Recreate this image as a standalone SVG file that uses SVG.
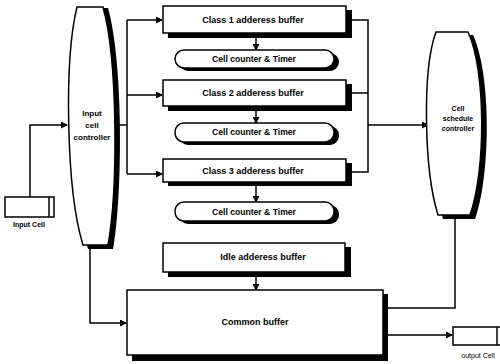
<svg xmlns="http://www.w3.org/2000/svg" width="500" height="364" viewBox="0 0 500 364">
<style>
.box{fill:#fff;stroke:#000;stroke-width:1.5}
.sh{fill:#000}
.t{font-family:"Liberation Sans",Arial,sans-serif;font-weight:bold;font-size:9px;text-anchor:middle;fill:#000}
.c{font-size:8.6px}
.n{font-size:8px}
.m{font-size:7px}
.s{font-family:"Liberation Sans",Arial,sans-serif;font-size:7px;text-anchor:middle;fill:#000}
.ln{fill:none;stroke:#000;stroke-width:1.5}
</style>
<defs>
<marker id="ah" markerWidth="7" markerHeight="7" refX="6" refY="3.5" orient="auto" markerUnits="userSpaceOnUse">
<path d="M0,0 L7,3.5 L0,7 Z" fill="#000"/>
</marker>
</defs>
<rect width="500" height="364" fill="#fff"/>
<g id="connectors">
<path class="ln" d="M30,197 V125 H67" marker-end="url(#ah)"/>
<path class="ln" d="M119,125 H127"/>
<path class="ln" d="M127,20 V174"/>
<path class="ln" d="M127,20 H162" marker-end="url(#ah)"/>
<path class="ln" d="M127,95 H162" marker-end="url(#ah)"/>
<path class="ln" d="M127,174 H162" marker-end="url(#ah)"/>
<path class="ln" d="M256,38 V50" marker-end="url(#ah)"/>
<path class="ln" d="M256,111 V123" marker-end="url(#ah)"/>
<path class="ln" d="M256,186 V202" marker-end="url(#ah)"/>
<path class="ln" d="M256,277 V290" marker-end="url(#ah)"/>
<path class="ln" d="M351,20 H368 V172 H351"/>
<path class="ln" d="M351,93 H368"/>
<path class="ln" d="M368,125 H428" marker-end="url(#ah)"/>
<path class="ln" d="M90,249 V323 H126" marker-end="url(#ah)"/>
<path class="ln" d="M455,219 V308 H388"/>
<path class="ln" d="M388,335 H452" marker-end="url(#ah)"/>
</g>
<g id="input-cell">
<rect class="box" x="5" y="197" width="49" height="20" stroke-width="2"/>
<line class="ln" x1="49" y1="197" x2="49" y2="217"/>
<text class="s" x="29" y="227" font-weight="bold">Input Cell</text>
</g>
<g id="input-controller">
<path class="sh" d="M82,8 L108,8 C123,61 123,191 113,249 L88,249 C71,191 69,61 82,8 Z"/>
<path class="box" d="M77,7 L103,7 C118,60 118,190 108,245 L83,245 C66,190 64,60 77,7 Z"/>
<text class="t n" x="92" y="116">Input</text>
<text class="t n" x="92" y="128">cell</text>
<text class="t n" x="92" y="140">controller</text>
</g>
<g id="class1">
<rect class="sh" x="168" y="10" width="184" height="28"/>
<rect class="box" x="163" y="6" width="183" height="27"/>
<text class="t" x="253" y="23">Class 1 adderess buffer</text>
</g>
<g id="counter1">
<rect class="sh" x="179" y="53" width="160" height="18" rx="9"/>
<rect class="box" x="175" y="50" width="159" height="18" rx="9"/>
<text class="t c" x="254" y="62">Cell counter &amp; Timer</text>
</g>
<g id="class2">
<rect class="sh" x="168" y="84" width="184" height="27"/>
<rect class="box" x="163" y="80" width="183" height="26"/>
<text class="t" x="253" y="96">Class 2 adderess buffer</text>
</g>
<g id="counter2">
<rect class="sh" x="179" y="126" width="160" height="19" rx="9"/>
<rect class="box" x="175" y="123" width="159" height="19" rx="9"/>
<text class="t c" x="254" y="135">Cell counter &amp; Timer</text>
</g>
<g id="class3">
<rect class="sh" x="168" y="163" width="184" height="23"/>
<rect class="box" x="163" y="159" width="183" height="23"/>
<text class="t" x="253" y="174">Class 3 adderess buffer</text>
</g>
<g id="counter3">
<rect class="sh" x="179" y="205" width="160" height="19" rx="9"/>
<rect class="box" x="175" y="202" width="159" height="19" rx="9"/>
<text class="t c" x="254" y="215">Cell counter &amp; Timer</text>
</g>
<g id="idle">
<rect class="sh" x="168" y="247" width="183" height="30"/>
<rect class="box" x="163" y="243" width="182" height="29"/>
<text class="t" x="263" y="260">Idle adderess buffer</text>
</g>
<g id="common">
<rect class="sh" x="132" y="294" width="256" height="67"/>
<rect class="box" x="127" y="290" width="256" height="65"/>
<text class="t" x="255" y="325">Common buffer</text>
</g>
<g id="schedule-controller">
<path class="sh" d="M441,35 L473,35 C491,73 491,173 475,219 L443,219 C429,173 427,73 441,35 Z"/>
<path class="box" d="M436,32 L468,32 C486,70 486,170 470,215 L438,215 C424,170 422,70 436,32 Z"/>
<text class="t m" x="458" y="111">Cell</text>
<text class="t m" x="458" y="121">schedule</text>
<text class="t m" x="458" y="131">controller</text>
</g>
<g id="output-cell">
<rect class="box" x="453" y="327" width="52" height="18"/>
<line class="ln" x1="497" y1="327" x2="497" y2="345"/>
<text class="s" x="478" y="358">output Cell</text>
</g>
</svg>
